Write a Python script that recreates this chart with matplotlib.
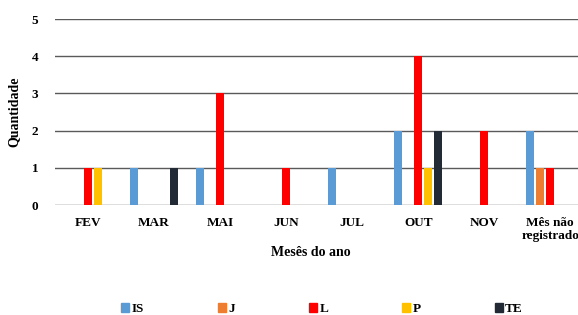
import matplotlib.pyplot as plt
import numpy as np
from matplotlib.patches import Patch

meses = ['FEV', 'MAR', 'MAI', 'JUN', 'JUL', 'OUT', 'NOV', 'Mês não\nregistrado']
series = ['IS', 'J', 'L', 'P', 'TE']
IS = [0, 1, 1, 0, 1, 2, 0, 2]
J = [0, 0, 0, 0, 0, 0, 0, 1]
L = [1, 0, 3, 1, 0, 4, 2, 1]
P = [1, 0, 0, 0, 0, 1, 0, 0]
TE = [0, 1, 0, 0, 0, 2, 0, 0]
cores = ['#5B9BD5', '#ED7D31', '#FF0000', '#FFC000', '#222A35']

plt.rcParams['font.family'] = ['Liberation Serif', 'DejaVu Serif']
plt.rcParams['font.weight'] = 'bold'

fig = plt.figure(figsize=(5.78, 3.15), dpi=100)
ax = fig.add_axes([55 / 578, 1 - 205 / 315, 1 - 55 / 578, 186 / 315])

x = np.arange(len(meses))
passo = 0.152
for i, (vals, cor) in enumerate(zip([IS, J, L, P, TE], cores)):
    ax.bar(x + (i - 2) * passo, vals, width=0.12, color=cor, zorder=3)

ax.set_ylim(0, 5)
ax.set_xlim(-0.5, 7.42)
ax.set_yticks(range(6))
ax.set_xticks(x)
ax.set_xticklabels(meses, va='top', linespacing=1.05)
ax.yaxis.grid(True, color='#5a5a5a', lw=1, zorder=0)
ax.set_axisbelow(True)
for s in ax.spines.values():
    s.set_visible(False)
ax.tick_params(length=0, labelsize=9.5)
ax.tick_params(axis='x', pad=9)
ax.tick_params(axis='y', pad=12)
for t in ax.get_xticklabels() + ax.get_yticklabels():
    t.set_fontweight('bold')

ax.set_ylabel('Quantidade', fontsize=10, fontweight='bold', labelpad=8)
fig.text(0.537, 1 - 253 / 315, 'Mesês do ano', ha='center', va='center',
         fontsize=10, fontweight='bold')

handles = [Patch(color=c, label=s) for s, c in zip(series, cores)]
fig.legend(handles=handles, loc='center', bbox_to_anchor=(0.557, 1 - 309 / 315),
           ncol=5, frameon=False, fontsize=9.5, handlelength=0.6, handleheight=0.6,
           handletextpad=0.2, columnspacing=5.6)

fig.savefig('out.png', dpi=100)
